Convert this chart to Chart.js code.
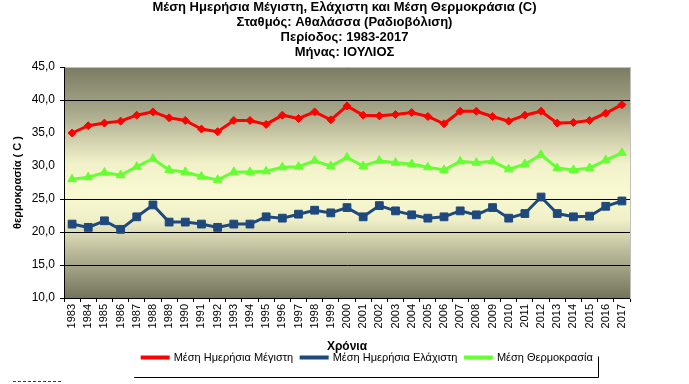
<!DOCTYPE html>
<html>
<head>
<meta charset="utf-8">
<title>Αθαλάσσα - Ιούλιος</title>
<script src="https://cdn.jsdelivr.net/npm/chart.js@4.4.1/dist/chart.umd.min.js"></script>
<style>
  html, body { margin: 0; padding: 0; background: #fff; }
  #wrap { width: 689px; height: 384px; position: relative; }
  #rule { position: absolute; left: 13px; top: 381px; width: 48px; border-top: 1px dashed #1f3f7f; }
</style>
</head>
<body>
<div id="wrap"><canvas id="chart"></canvas><div id="rule"></div></div>
<script>
// ─── Data ──────────────────────────────────────────

const YEARS = [
  '1983', '1984', '1985', '1986', '1987', '1988', '1989', '1990', '1991', '1992',
  '1993', '1994', '1995', '1996', '1997', '1998', '1999', '2000', '2001', '2002',
  '2003', '2004', '2005', '2006', '2007', '2008', '2009', '2010', '2011', '2012',
  '2013', '2014', '2015', '2016', '2017',
];

const MAX_TEMP = [
  35.0, 36.1, 36.5, 36.8, 37.7, 38.2, 37.3, 36.9, 35.6, 35.2,
  36.9, 36.9, 36.3, 37.7, 37.2, 38.2, 37.0, 39.1, 37.7, 37.6,
  37.8, 38.1, 37.5, 36.4, 38.3, 38.3, 37.5, 36.8, 37.7, 38.3,
  36.5, 36.6, 36.9, 38.0, 39.3,
];

const MIN_TEMP = [
  21.2, 20.7, 21.7, 20.4, 22.3, 24.1, 21.5, 21.5, 21.2, 20.7,
  21.2, 21.2, 22.3, 22.1, 22.7, 23.3, 22.9, 23.7, 22.3, 24.0,
  23.2, 22.6, 22.1, 22.3, 23.2, 22.6, 23.7, 22.1, 22.8, 25.3,
  22.8, 22.3, 22.4, 23.9, 24.7,
];

const MEAN_TEMP = [
  28.0, 28.3, 29.0, 28.6, 29.9, 31.1, 29.4, 29.1, 28.4, 27.9,
  29.1, 29.1, 29.2, 29.8, 29.9, 30.8, 30.0, 31.3, 30.0, 30.8,
  30.5, 30.3, 29.8, 29.4, 30.7, 30.5, 30.7, 29.5, 30.3, 31.7,
  29.7, 29.4, 29.7, 30.9, 32.0,
];

const SERIES_NAMES = [
  'Μέση Ημερήσια Μέγιστη',
  'Μέση Ημερήσια Ελάχιστη',
  'Μέση Θερμοκρασία',
];

const TITLE_LINES = [
  'Μέση Ημερήσια Μέγιστη, Ελάχιστη και Μέση Θερμοκράσια (C)',
  'Σταθμός: Αθαλάσσα (Ραδιοβόλιση)',
  'Περίοδος: 1983-2017',
  'Μήνας: ΙΟΥΛΙΟΣ',
];

const Y_MIN = 10;
const Y_MAX = 45;
const Y_STEP = 5;
const HIDDEN_GRID = [30, 35]; // excel hid these behind the light band

// ─── Plugins ───────────────────────────────────────

const plotBackground = {
  id: 'plotBackground',
  beforeDraw(chart) {
    const { ctx, chartArea: a } = chart;
    const g = ctx.createLinearGradient(0, a.top, 0, a.bottom);
    g.addColorStop(0, '#7b7b63');
    g.addColorStop(0.18, '#a4a487');
    g.addColorStop(0.42, '#f2f2ca');
    g.addColorStop(0.55, '#f9f9d2');
    g.addColorStop(0.66, '#f0f0c8');
    g.addColorStop(0.82, '#b3b394');
    g.addColorStop(1, '#74745c');
    ctx.save();
    ctx.fillStyle = g;
    ctx.fillRect(a.left, a.top, a.width, a.height);
    ctx.restore();
  },
};

const legendNudge = {
  id: 'legendNudge',
  afterLayout(chart) {
    const l = chart.legend;
    l.left += 23;
    l.right += 23;
    l.top -= 10;
    l.bottom -= 10;
  },
  afterDraw(chart) {
    const hb = chart.legend.legendHitBoxes;
    if (!hb || !hb.length) return;
    const first = hb[0];
    const last = hb[hb.length - 1];
    const x0 = first.left - 8;
    const x1 = Math.round(last.left + last.width + 5) + 0.5;
    const yMid = first.top + first.height / 2;
    const y1 = Math.round(yMid + 19) + 0.5;
    const ctx = chart.ctx;
    ctx.save();
    ctx.strokeStyle = '#000';
    ctx.lineWidth = 1;
    ctx.beginPath();
    ctx.moveTo(x0, y1);
    ctx.lineTo(x1, y1);
    ctx.lineTo(x1, yMid - 1);
    ctx.stroke();
    ctx.restore();
  },
};

// ─── Chart ─────────────────────────────────────────

Chart.defaults.font.family = "'Liberation Sans', Arial, sans-serif";
Chart.defaults.color = '#000';

const fmtTick = (v) => v.toFixed(1).replace('.', ',');

function series(label, data, color, pointStyle, radius) {
  return {
    label,
    data,
    borderColor: color,
    backgroundColor: color,
    borderWidth: 3,
    pointStyle,
    pointRadius: radius,
    pointBorderWidth: 1,
    tension: 0,
  };
}

new Chart(document.getElementById('chart'), {
  type: 'line',
  data: {
    labels: YEARS,
    datasets: [
      series(SERIES_NAMES[0], MAX_TEMP, '#ff0000', 'rectRot', 4),
      series(SERIES_NAMES[1], MIN_TEMP, '#1f497d', 'rect', 5.5),
      series(SERIES_NAMES[2], MEAN_TEMP, '#66ff33', 'triangle', 5),
    ],
  },
  options: {
    responsive: true,
    maintainAspectRatio: false,
    animation: false,
    events: [],
    layout: { padding: { left: 0, right: 0, top: 0, bottom: 1 } },
    plugins: {
      title: {
        display: true,
        text: TITLE_LINES,
        color: '#000',
        font: { size: 13, weight: 'bold', lineHeight: 1.154 },
        padding: { top: 0, bottom: 7 },
      },
      legend: {
        position: 'bottom',
        labels: {
          color: '#000',
          font: { size: 11 },
          boxWidth: 26,
          boxHeight: 1,
          padding: 8,
        },
      },
      tooltip: { enabled: false },
    },
    scales: {
      x: {
        offset: true,
        afterFit: (s) => { s.height = 56; },
        grid: { offset: true, drawOnChartArea: false, color: '#000', tickLength: 4 },
        border: { color: '#000', width: 1 },
        ticks: {
          autoSkip: false,
          minRotation: 90,
          maxRotation: 90,
          padding: 2,
          color: '#000',
          font: { size: 11 },
        },
        title: {
          display: true,
          text: 'Χρόνια',
          color: '#000',
          font: { size: 12, weight: 'bold' },
          padding: { top: 0, bottom: 0 },
        },
      },
      y: {
        min: Y_MIN,
        max: Y_MAX,
        afterFit: (s) => { s.width = 64; },
        grid: {
          color: (c) => {
            const v = c.tick && c.tick.value;
            if (v === Y_MAX) return '#c0c0c0';
            if (HIDDEN_GRID.includes(v)) return 'rgba(0,0,0,0)';
            return '#000';
          },
          tickColor: (c) => {
            const v = c.tick && c.tick.value;
            return HIDDEN_GRID.includes(v) ? 'rgba(0,0,0,0)' : '#000';
          },
          tickLength: 4,
        },
        border: { color: '#000', width: 1 },
        ticks: {
          stepSize: Y_STEP,
          padding: 5,
          color: '#000',
          font: { size: 12 },
          callback: (v) => fmtTick(v),
        },
        title: {
          display: true,
          text: 'θερμοκρασία ( C )',
          color: '#000',
          font: { size: 11, weight: 'bold' },
          padding: { top: 11, bottom: 0 },
        },
      },
      yRight: {
        position: 'right',
        afterFit: (s) => { s.width = 59; },
        grid: { display: false },
        ticks: { display: false },
        border: { display: true, color: '#c0c0c0', width: 1 },
      },
    },
  },
  plugins: [plotBackground, legendNudge],
});
</script>
</body>
</html>
